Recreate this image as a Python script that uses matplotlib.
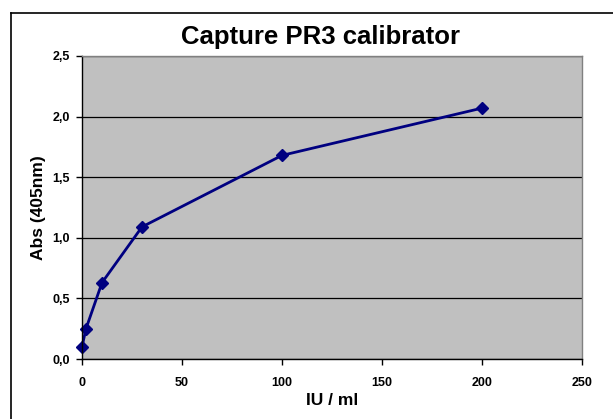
import matplotlib
matplotlib.use("Agg")
import matplotlib.pyplot as plt
from matplotlib.lines import Line2D
from matplotlib.ticker import FuncFormatter

plt.rcParams['font.family'] = ['Liberation Sans', 'DejaVu Sans']

# ===== 데이터 =====
conc = [0, 2, 10, 30, 100, 200]          # IU / ml
absorb = [0.10, 0.25, 0.63, 1.09, 1.68, 2.07]  # Abs (405nm)
x_ticks = [0, 50, 100, 150, 200, 250]
y_ticks = [0.0, 0.5, 1.0, 1.5, 2.0, 2.5]

W, H = 613, 419
fig = plt.figure(figsize=(W/100, H/100), dpi=100)
fig.patch.set_facecolor("white")

# 바깥 테두리 (왼쪽, 위쪽만 보임)
fig.add_artist(Line2D([11/W, 11/W], [0, 1-13/H], color="black", lw=1.2, transform=fig.transFigure))
fig.add_artist(Line2D([11/W, 1], [1-13/H, 1-13/H], color="black", lw=1.2, transform=fig.transFigure))

ax = fig.add_axes([82/W, 1-359/H, (582-82)/W, (359-56)/H])
ax.set_facecolor("#C0C0C0")
ax.set_xlim(0, 250)
ax.set_ylim(0, 2.5)
ax.set_xticks(x_ticks)
ax.set_yticks(y_ticks)
ax.yaxis.set_major_formatter(FuncFormatter(lambda v, p: f"{v:.1f}".replace(".", ",")))
ax.grid(axis="y", color="black", lw=0.9)
ax.set_axisbelow(True)

for s in ["top", "right"]:
    ax.spines[s].set_color("#808080")
    ax.spines[s].set_linewidth(1.0)
for s in ["left", "bottom"]:
    ax.spines[s].set_color("black")
    ax.spines[s].set_linewidth(1.0)

ax.tick_params(direction="out", length=4, width=1, labelsize=9)
ax.tick_params(axis="x", pad=9)
ax.tick_params(axis="y", pad=4.5)
for lab in ax.get_xticklabels() + ax.get_yticklabels():
    lab.set_fontweight("bold")

ax.plot(conc, absorb, color="#000080", lw=2, marker="D", ms=6,
        markerfacecolor="#000080", markeredgecolor="#000080", clip_on=False)

ax.set_xlabel("IU / ml", fontsize=12.5, fontweight="bold", labelpad=3)
ax.set_ylabel("Abs (405nm)", fontsize=12.5, fontweight="bold", labelpad=5)
fig.text(0.5235, 1-37/H, "Capture PR3 calibrator", fontsize=18.5, fontweight="bold",
         ha="center", va="center")

fig.savefig("out.png", dpi=100)
plt.close(fig)
